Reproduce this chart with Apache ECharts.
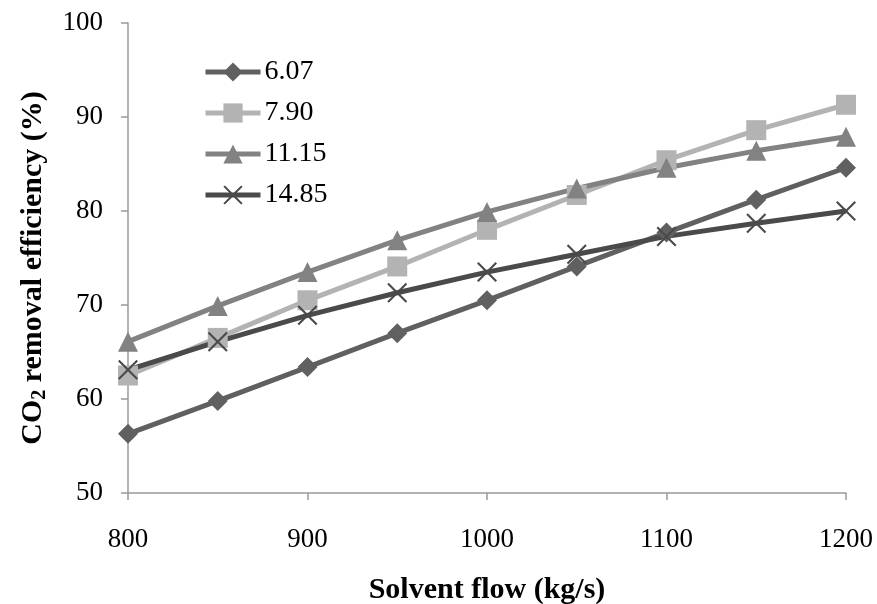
<!DOCTYPE html>
<html>
<head>
<meta charset="utf-8">
<script src="https://cdn.jsdelivr.net/npm/echarts@6/dist/echarts.min.js"></script>
<style>
  html, body { margin: 0; padding: 0; background: #fff; }
  #chart { width: 877px; height: 604px; }
</style>
</head>
<body>
<div id="chart"></div>
<script>
// Solvent flow (kg/s) on the x axis
const solventFlow = [800, 850, 900, 950, 1000, 1050, 1100, 1150, 1200];

// CO2 removal efficiency (%) for each series
const series607  = [56.3, 59.8, 63.4, 67.0, 70.5, 74.1, 77.7, 81.2, 84.6];
const series790  = [62.5, 66.5, 70.5, 74.1, 78.0, 81.7, 85.4, 88.6, 91.3];
const series1115 = [66.1, 69.9, 73.5, 76.9, 79.9, 82.4, 84.6, 86.4, 87.9];
const series1485 = [63.1, 66.1, 68.9, 71.3, 73.5, 75.4, 77.3, 78.7, 80.0];

const seriesNames = ['6.07', '7.90', '11.15', '14.85'];

const FONT = '"Liberation Serif", "Times New Roman", serif';
const crossPath = 'path://M1.5,0 L10,8.5 L18.5,0 L20,1.5 L11.5,10 L20,18.5 L18.5,20 L10,11.5 L1.5,20 L0,18.5 L8.5,10 L0,1.5 Z';

function pairs(vals) {
  return solventFlow.map((x, i) => [x, vals[i]]);
}

function lineSeries(name, vals, color, symbol, size) {
  return {
    name: name,
    type: 'line',
    data: pairs(vals),
    symbol: symbol,
    symbolSize: size,
    showAllSymbol: true,
    lineStyle: { color: color, width: 5 },
    itemStyle: { color: color },
    emphasis: { disabled: true },
    animation: false
  };
}

const chart = echarts.init(document.getElementById('chart'), null, { renderer: 'canvas' });

chart.setOption({
  backgroundColor: '#ffffff',
  animation: false,
  textStyle: { fontFamily: FONT },
  grid: { left: 128, right: 31, top: 23, bottom: 111, containLabel: false, outerBoundsMode: 'none' },
  legend: {
    orient: 'vertical',
    left: 198,
    top: 53,
    itemWidth: 55,
    itemHeight: 24,
    itemGap: 13,
    data: seriesNames,
    lineStyle: { width: 5 },
    textStyle: { fontFamily: FONT, fontSize: 28, color: '#000', padding: [0, 0, 0, -1] }
  },
  // rotated y-axis title with a subscript 2 in CO2
  graphic: [{
    type: 'text',
    x: 33,
    y: 268,
    rotation: Math.PI / 2,
    style: {
      text: '{a|CO}{s|2}{a| removal efficiency (%)}',
      align: 'center',
      verticalAlign: 'middle',
      rich: {
        a: { fontFamily: FONT, fontSize: 30, fontWeight: 'bold', fill: '#000' },
        s: { fontFamily: FONT, fontSize: 20, fontWeight: 'bold', fill: '#000', padding: [13, 0, 0, 0] }
      }
    }
  }],
  xAxis: {
    type: 'value',
    min: 800,
    max: 1200,
    interval: 100,
    name: 'Solvent flow (kg/s)',
    nameLocation: 'middle',
    nameGap: 82,
    nameTextStyle: { fontFamily: FONT, fontSize: 30, fontWeight: 'bold', color: '#000' },
    axisLine: { lineStyle: { color: '#9a9a9a', width: 1.5 } },
    axisTick: { show: true, inside: false, length: 7, lineStyle: { color: '#9a9a9a', width: 1.5 } },
    axisLabel: { fontFamily: FONT, fontSize: 27, color: '#000', margin: 33, formatter: v => String(v) },
    splitLine: { show: false }
  },
  yAxis: {
    type: 'value',
    min: 50,
    max: 100,
    interval: 10,
    axisLine: { show: true, lineStyle: { color: '#9a9a9a', width: 1.5 } },
    axisTick: { show: true, inside: false, length: 7, lineStyle: { color: '#9a9a9a', width: 1.5 } },
    axisLabel: { fontFamily: FONT, fontSize: 27, color: '#000', margin: 25 },
    splitLine: { show: false }
  },
  series: [
    lineSeries(seriesNames[0], series607, '#606060', 'diamond', 20),
    lineSeries(seriesNames[1], series790, '#b3b3b3', 'rect', 20),
    lineSeries(seriesNames[2], series1115, '#828282', 'triangle', 20),
    lineSeries(seriesNames[3], series1485, '#4a4a4a', crossPath, 20)
  ]
});
</script>
</body>
</html>
